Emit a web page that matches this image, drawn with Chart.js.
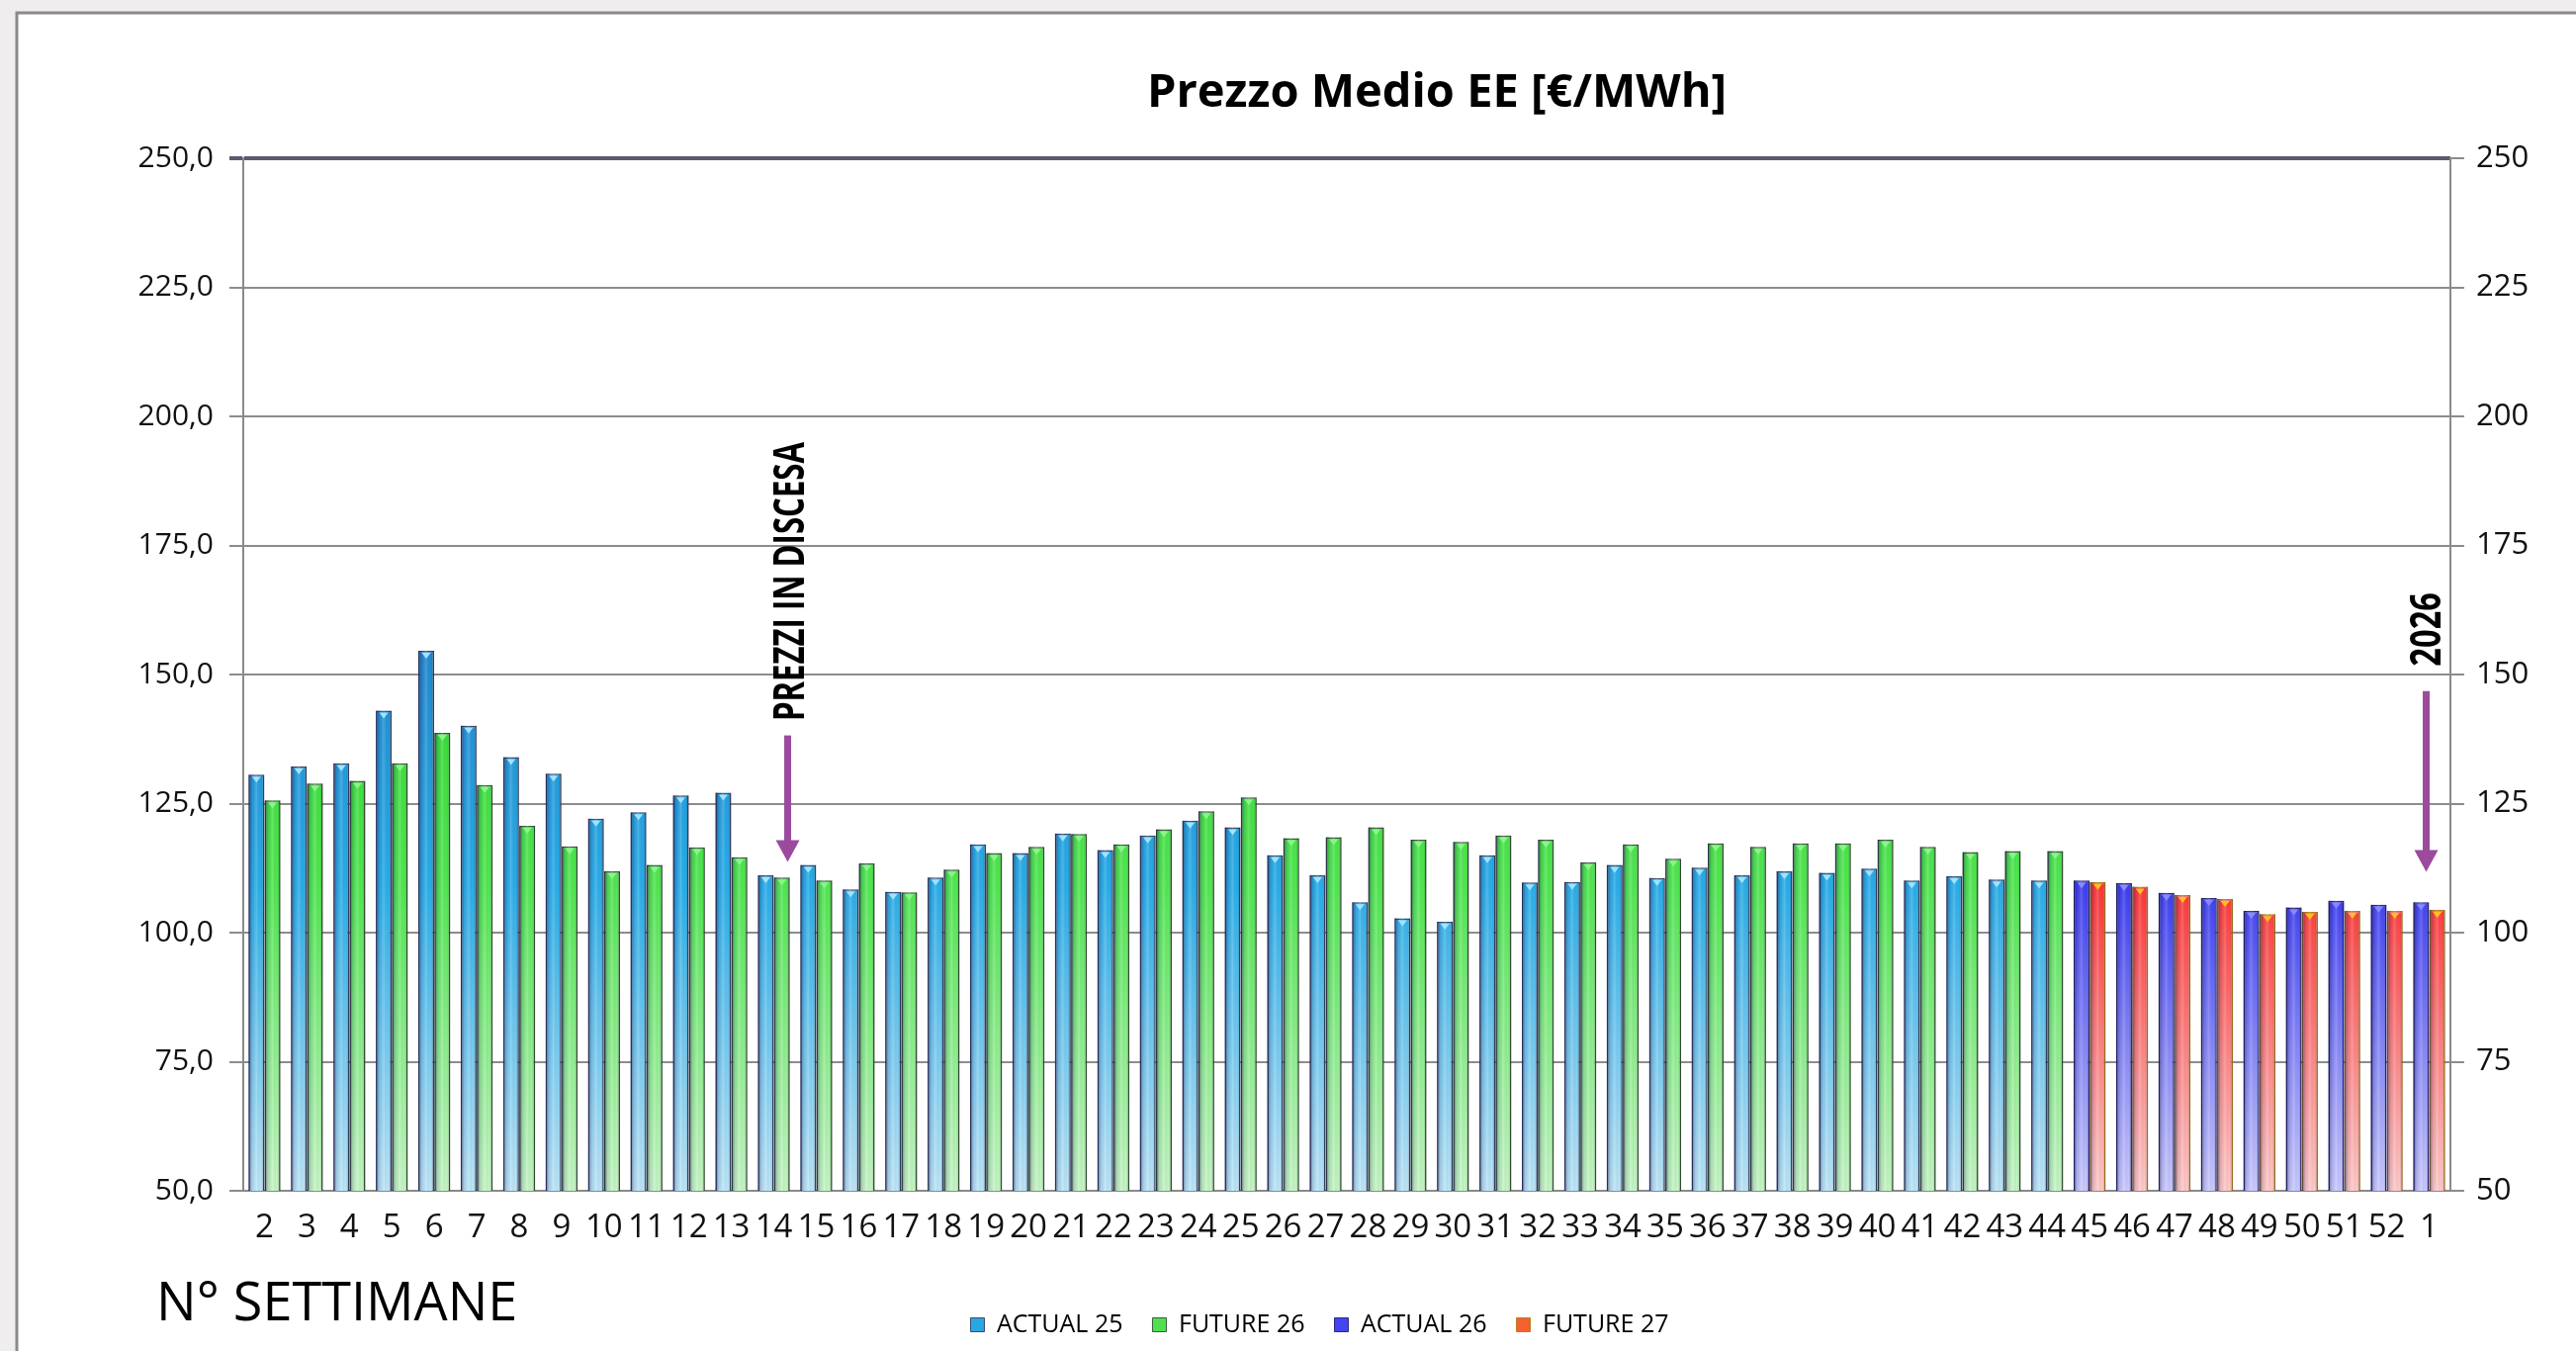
<!DOCTYPE html>
<html lang="it">
<head>
<meta charset="UTF-8" />
<title>Prezzo Medio EE</title>
<script src="https://cdn.jsdelivr.net/npm/chart.js@4.4.1/dist/chart.umd.min.js"></script>
<style>
  html, body { margin: 0; padding: 0; background: #efeded; }
  #wrap { width: 2605px; height: 1366px; }
</style>
</head>
<body>
<div id="wrap"><canvas id="chart" width="2605" height="1366"></canvas></div>
<script>
// N° settimana (asse X)
const weeks = ['2','3','4','5','6','7','8','9','10','11','12','13','14','15','16','17','18','19','20',
  '21','22','23','24','25','26','27','28','29','30','31','32','33','34','35','36','37','38','39','40',
  '41','42','43','44','45','46','47','48','49','50','51','52','1']

const actual25 = [130.6, 132.2, 132.8, 143.0, 154.6, 140.1, 134.0, 130.8, 122.1, 123.3, 126.6, 127.1,
  111.1, 113.1, 108.4, 107.9, 110.7, 117.1, 115.4, 119.2, 116.0, 118.8, 121.7, 120.4, 115.0, 111.1,
  105.9, 102.8, 102.1, 115.0, 109.7, 109.8, 113.1, 110.6, 112.6, 111.1, 111.9, 111.6, 112.4, 110.1,
  110.9, 110.3, 110.1, null, null, null, null, null, null, null, null, null]

const future26 = [125.6, 128.9, 129.4, 132.8, 138.7, 128.6, 120.7, 116.7, 111.9, 113.1, 116.5, 114.6,
  110.7, 110.1, 113.4, 107.8, 112.2, 115.4, 116.6, 119.1, 117.1, 120.0, 123.5, 126.2, 118.3, 118.5,
  120.4, 118.0, 117.6, 118.8, 118.0, 113.6, 117.1, 114.3, 117.3, 116.6, 117.3, 117.3, 118.0, 116.6,
  115.6, 115.8, 115.8, null, null, null, null, null, null, null, null, null]

const actual26 = [null, null, null, null, null, null, null, null, null, null, null, null, null, null,
  null, null, null, null, null, null, null, null, null, null, null, null, null, null, null, null, null,
  null, null, null, null, null, null, null, null, null, null, null, null,
  110.1, 109.6, 107.7, 106.7, 104.2, 104.9, 106.2, 105.4, 105.9]

const future27 = [null, null, null, null, null, null, null, null, null, null, null, null, null, null,
  null, null, null, null, null, null, null, null, null, null, null, null, null, null, null, null, null,
  null, null, null, null, null, null, null, null, null, null, null, null,
  109.8, 108.9, 107.3, 106.5, 103.6, 104.0, 104.2, 104.2, 104.4]

const yTicks = [50, 75, 100, 125, 150, 175, 200, 225, 250]

// colori: alto, medio, basso
const palette = [
  { top: '#1f86cf', mid: '#27aeea', low: '#bde6f8', border: '#3a4a70', legend: '#2aa6e0', cap: '#9fe4ff' },
  { top: '#2bd82b', mid: '#4fe94f', low: '#c6f6c6', border: '#3c5a3c', legend: '#4fe04f', cap: '#8af58a' },
  { top: '#1c1ce8', mid: '#3c3cf4', low: '#cacaff', border: '#2a2a80', legend: '#4444f0', cap: '#8a8aff' },
  { top: '#ff1a1a', mid: '#ff3434', low: '#ffcaca', border: '#b98020', legend: '#f46030', cap: '#ffc020' },
]

const font = "'Open Sans', 'Liberation Sans', sans-serif"
const gradCache = {}

function barFill(i) {
  return (context) => {
    const chart = context.chart
    const area = chart.chartArea
    if (!area) return palette[i].mid
    const key = i + ':' + area.top + ':' + area.bottom
    if (!gradCache[key]) {
      const y = chart.scales.y
      const g = chart.ctx.createLinearGradient(0, y.getPixelForValue(158), 0, area.bottom)
      g.addColorStop(0, palette[i].top)
      g.addColorStop(0.45, palette[i].mid)
      g.addColorStop(1, palette[i].low)
      gradCache[key] = g
    }
    return gradCache[key]
  }
}

function makeSet(label, values, i) {
  return {
    label: label,
    data: values,
    backgroundColor: barFill(i),
    borderColor: palette[i].border,
    borderWidth: 1.5,
    categoryPercentage: 0.76,
    barPercentage: 0.98,
    skipNull: true,
  }
}

function drawArrow(ctx, x, yTop, yTip) {
  ctx.save()
  ctx.strokeStyle = '#9b4a9e'
  ctx.fillStyle = '#9b4a9e'
  ctx.lineWidth = 7
  ctx.beginPath()
  ctx.moveTo(x, yTop)
  ctx.lineTo(x, yTip - 20)
  ctx.stroke()
  ctx.beginPath()
  ctx.moveTo(x - 12, yTip - 22)
  ctx.lineTo(x + 12, yTip - 22)
  ctx.lineTo(x, yTip)
  ctx.closePath()
  ctx.fill()
  ctx.restore()
}

function drawVertical(ctx, text, x, yBottom, yTop) {
  ctx.save()
  ctx.font = 'bold 43px ' + font
  const w = ctx.measureText(text).width
  const len = yBottom - yTop
  ctx.translate(x, (yBottom + yTop) / 2)
  ctx.rotate(-Math.PI / 2)
  ctx.scale(len / w, 1)
  ctx.fillStyle = '#000'
  ctx.textAlign = 'center'
  ctx.textBaseline = 'middle'
  ctx.fillText(text, 0, 0)
  ctx.restore()
}

// effetto cilindro sulle barre, usando la geometria calcolata da Chart.js
function shadeBars(chart) {
  const ctx = chart.ctx
  const area = chart.chartArea
  ctx.save()
  ctx.beginPath()
  ctx.rect(area.left, area.top, area.right - area.left, area.bottom - area.top)
  ctx.clip()
  chart.data.datasets.forEach((ds, i) => {
    const meta = chart.getDatasetMeta(i)
    meta.data.forEach((bar, j) => {
      if (ds.data[j] == null) return
      const p = bar.getProps(['x', 'y', 'base', 'width'], true)
      const left = p.x - p.width / 2
      const bottom = Math.min(p.base, area.bottom)
      const g = ctx.createLinearGradient(left, 0, left + p.width, 0)
      g.addColorStop(0, 'rgba(20,20,70,0.55)')
      g.addColorStop(0.22, 'rgba(20,20,70,0.12)')
      g.addColorStop(0.5, 'rgba(255,255,255,0.16)')
      g.addColorStop(0.78, 'rgba(0,0,0,0)')
      g.addColorStop(1, 'rgba(0,0,0,0.22)')
      ctx.fillStyle = g
      ctx.fillRect(left, p.y, p.width, bottom - p.y)
      ctx.fillStyle = palette[i].cap
      ctx.beginPath()
      ctx.moveTo(p.x - p.width * 0.28, p.y + 2)
      ctx.lineTo(p.x + p.width * 0.28, p.y + 2)
      ctx.lineTo(p.x, p.y + 8)
      ctx.closePath()
      ctx.fill()
    })
  })
  ctx.restore()
}

const decor = {
  id: 'decor',
  afterLayout(chart) {
    // legenda leggermente spostata a destra come nell'originale
    chart.legend.left += 32
    chart.legend.right += 32
  },
  beforeDraw(chart) {
    const ctx = chart.ctx
    ctx.save()
    ctx.fillStyle = '#efeded'
    ctx.fillRect(0, 0, chart.width, chart.height)
    ctx.fillStyle = '#ffffff'
    ctx.fillRect(17, 13, chart.width, chart.height)
    ctx.strokeStyle = '#8a8a8a'
    ctx.lineWidth = 3
    ctx.strokeRect(17, 13, chart.width + 10, chart.height + 10)
    ctx.restore()
  },
  afterDatasetsDraw(chart) {
    shadeBars(chart)
    const ctx = chart.ctx
    const x = chart.scales.x
    const y = chart.scales.y
    const i14 = weeks.indexOf('14')
    const i1 = weeks.indexOf('1')
    drawArrow(ctx, x.getPixelForValue(i14) + 14, y.getPixelForValue(138.2), y.getPixelForValue(113.7))
    drawVertical(ctx, 'PREZZI IN DISCESA', x.getPixelForValue(i14) + 18, y.getPixelForValue(141), y.getPixelForValue(195))
    drawArrow(ctx, x.getPixelForValue(i1) - 3, y.getPixelForValue(146.8), y.getPixelForValue(111.8))
    drawVertical(ctx, '2026', x.getPixelForValue(i1) - 1, y.getPixelForValue(151.6), y.getPixelForValue(165.9))

    ctx.save()
    ctx.fillStyle = '#000'
    ctx.font = 'bold 47px ' + font
    ctx.textAlign = 'center'
    ctx.textBaseline = 'middle'
    ctx.fillText('Prezzo Medio EE [€/MWh]', 1453, 95)
    ctx.font = '54px ' + font
    ctx.textAlign = 'left'
    ctx.fillText('N° SETTIMANE', 158, 1320)
    ctx.restore()
  },
}

const ctx = document.getElementById('chart')
const chart = new Chart(ctx, {
  type: 'bar',
  data: {
    labels: weeks,
    datasets: [
      makeSet('ACTUAL 25', actual25, 0),
      makeSet('FUTURE 26', future26, 1),
      makeSet('ACTUAL 26', actual26, 2),
      makeSet('FUTURE 27', future27, 3),
    ],
  },
  options: {
    responsive: false,
    animation: false,
    devicePixelRatio: 1,
    layout: { padding: { top: 160, left: 0, right: 0, bottom: 4 } },
    plugins: {
      title: { display: false },
      tooltip: { enabled: false },
      legend: {
        position: 'bottom',
        labels: {
          font: { family: font, size: 25 },
          color: '#222',
          boxWidth: 14,
          boxHeight: 14,
          padding: 30,
          generateLabels: (c) => c.data.datasets.map((ds, i) => ({
            text: ds.label,
            fillStyle: palette[i].legend,
            strokeStyle: palette[i].border,
            lineWidth: 1,
            hidden: false,
            datasetIndex: i,
          })),
        },
      },
    },
    scales: {
      x: {
        afterFit: (s) => { s.height = 93 },
        grid: { display: false, drawTicks: false },
        border: { display: true, color: '#8a8a8a', width: 2 },
        ticks: { font: { family: font, size: 33 }, color: '#111', padding: 18, maxRotation: 0, autoSkip: false },
      },
      y: {
        position: 'left',
        min: 50,
        max: 250,
        afterFit: (s) => { s.width = 246 },
        afterBuildTicks: (s) => { s.ticks = yTicks.map((v) => ({ value: v })) },
        grid: {
          color: (c) => (c.tick && c.tick.value === 250 ? '#5a5a6e' : '#8c8c8c'),
          lineWidth: (c) => (c.tick && c.tick.value === 250 ? 4 : 2),
          tickLength: 14,
        },
        border: { display: true, color: '#8a8a8a', width: 2 },
        ticks: {
          font: { family: font, size: 30 },
          color: '#111',
          padding: 16,
          callback: (v) => v.toFixed(1).replace('.', ','),
        },
      },
      y2: {
        position: 'right',
        min: 50,
        max: 250,
        afterFit: (s) => { s.width = 127 },
        afterBuildTicks: (s) => { s.ticks = yTicks.map((v) => ({ value: v })) },
        grid: { drawOnChartArea: false, color: '#8c8c8c', lineWidth: 2, tickLength: 14 },
        border: { display: true, color: '#8a8a8a', width: 2 },
        ticks: {
          font: { family: font, size: 31 },
          color: '#111',
          padding: 12,
          callback: (v) => String(v),
        },
      },
    },
  },
  plugins: [decor],
})
</script>
</body>
</html>
